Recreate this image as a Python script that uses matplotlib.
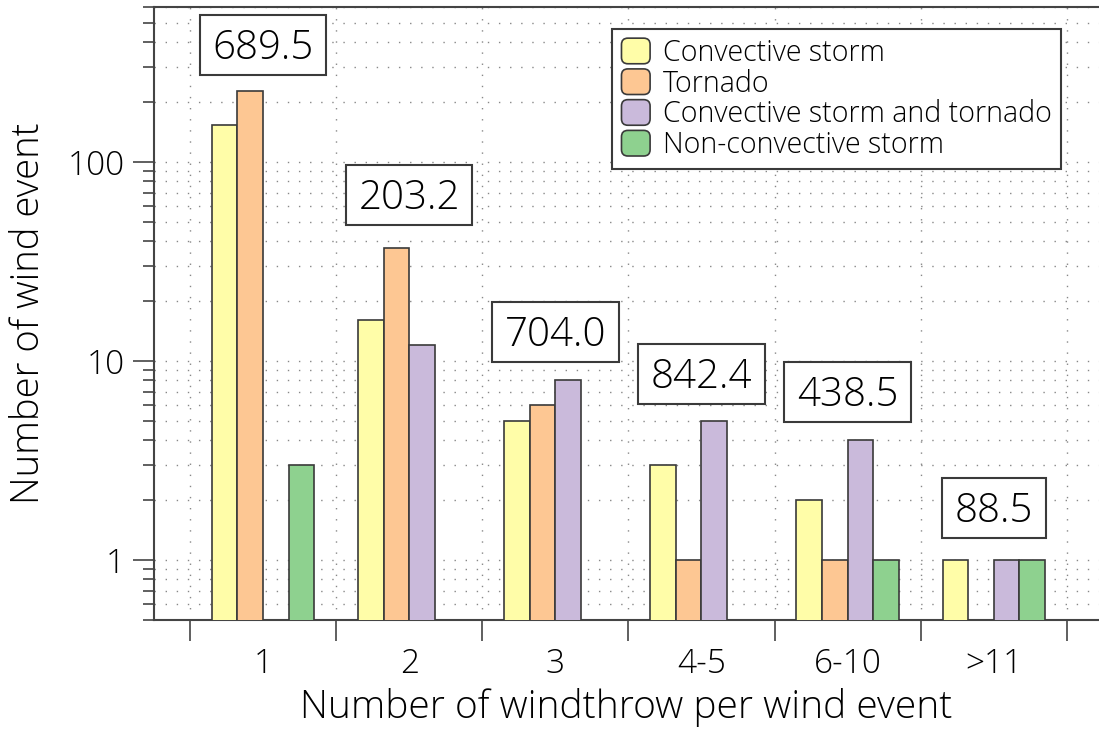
import numpy as np
import matplotlib
matplotlib.use("Agg")
import matplotlib.pyplot as plt
from matplotlib.patches import FancyBboxPatch, Patch, Rectangle
from matplotlib.legend_handler import HandlerPatch
from matplotlib.ticker import FixedLocator, NullFormatter, FixedFormatter, LogLocator
import matplotlib.transforms as mtransforms

plt.rcParams['font.family'] = ['Open Sans', 'DejaVu Sans']
plt.rcParams['font.weight'] = 'light'
plt.rcParams['axes.labelweight'] = 'light'

categories = ["1", "2", "3", "4-5", "6-10", ">11"]
series_names = ["Convective storm", "Tornado", "Convective storm and tornado", "Non-convective storm"]
convective = [153, 16, 5, 3, 2, 1]
tornado = [226, 37, 6, 1, 1, np.nan]
conv_tornado = [np.nan, 12, 8, 5, 4, 1]
non_convective = [3, np.nan, np.nan, np.nan, 1, 1]
box_labels = ["689.5", "203.2", "704.0", "842.4", "438.5", "88.5"]

colors = ["#FFFDA8", "#FDC793", "#CABADB", "#8ED18F"]
edge = "#3a3a3a"

fig = plt.figure(figsize=(10.99, 7.34), dpi=100)
ax = fig.add_axes([154/1099, 1-620/734, 1-154/1099, (620-7)/734])

x = np.arange(1, len(categories)+1)
w = 0.175
all_series = [convective, tornado, conv_tornado, non_convective]
handles = []
for i, (vals, c, name) in enumerate(zip(all_series, colors, series_names)):
    ax.bar(x + (i-1.5)*w, vals, width=w, color=c, edgecolor=edge,
           linewidth=1.2, zorder=3)
    handles.append(Patch(facecolor=c, edgecolor=edge, linewidth=1.2, label=name))

ax.set_yscale('log')
ax.set_ylim(0.5, 600)
ax.set_xlim(0.254, 6.72)

# y ticks
ax.yaxis.set_major_locator(FixedLocator([1, 10, 100]))
ax.yaxis.set_major_formatter(FixedFormatter(["1", "10", "100"]))
ax.yaxis.set_minor_locator(LogLocator(base=10, subs=np.arange(2, 10)))
ax.yaxis.set_minor_formatter(NullFormatter())
ax.tick_params(axis='y', which='major', length=15, width=1.2, color='#444444',
               labelsize=24, pad=6, direction='out')
ax.tick_params(axis='y', which='minor', length=8, width=1.2, color='#444444', direction='out')

# x ticks: boundaries as major ticks, labels at centers
ax.xaxis.set_major_locator(FixedLocator(np.arange(0.5, 7.0, 1.0)))
ax.xaxis.set_major_formatter(NullFormatter())
ax.xaxis.set_minor_locator(FixedLocator(x))
ax.xaxis.set_minor_formatter(FixedFormatter(categories))
ax.tick_params(axis='x', which='major', length=15, width=1.2, color='#444444', direction='out')
ax.tick_params(axis='x', which='minor', length=0, labelsize=24, pad=20)

for s in ['left', 'bottom', 'top']:
    ax.spines[s].set_color('#444444')
    ax.spines[s].set_linewidth(1.5)
ax.spines['right'].set_visible(False)

# grid
gkw = dict(color='#888888', linewidth=1.0, linestyle=(0, (1, 7)), zorder=0)
ax.grid(True, which='both', axis='y', **gkw)
ax.grid(True, which='major', axis='x', **gkw)
ax.set_axisbelow(True)

ax.set_xlabel("Number of windthrow per wind event", fontsize=28, labelpad=5)
ax.set_ylabel("Number of wind event", fontsize=27.5, labelpad=14)

# boxes with totals (box centres in axes fraction; fixed height, text-width based width)
trans = mtransforms.blended_transform_factory(ax.transData, ax.transAxes)
box_y = [(620-45)/613, (620-195)/613, (620-332)/613, (620-374)/613, (620-392)/613, (620-508)/613]
texts = []
for xi, lab, yy in zip(x, box_labels, box_y):
    t = ax.text(xi, yy, lab, ha='center', va='baseline', fontsize=29, zorder=6,
                transform=trans + mtransforms.ScaledTranslation(0, -14/100, fig.dpi_scale_trans))
    texts.append((t, xi, yy))

fig.canvas.draw()
renderer = fig.canvas.get_renderer()
for t, xi, yy in texts:
    bb = t.get_window_extent(renderer)
    cx, cy = trans.transform((xi, yy))
    bw = bb.width + 25
    bh = 60
    r = Rectangle((cx - bw/2, cy - bh/2), bw, bh, transform=mtransforms.IdentityTransform(),
                  facecolor='white', edgecolor=edge, linewidth=1.5, zorder=5)
    fig.add_artist(r)
    t.remove()
    fig.add_artist(t)
    t.set_zorder(6)

def make_rounded(legend, orig_handle, xdescent, ydescent, width, height, fontsize):
    return FancyBboxPatch((-xdescent, -ydescent), width, height,
                          boxstyle="round,pad=0,rounding_size=%f" % (0.25*height))

leg = ax.legend(handles=handles, loc='upper right',
                bbox_to_anchor=((1061-154)/945, (620-29)/613), borderaxespad=0,
                fontsize=20.6, frameon=True, fancybox=False, framealpha=1,
                edgecolor=edge, handlelength=1.0, handleheight=1.0,
                handletextpad=0.45, labelspacing=0.04, borderpad=0.32,
                handler_map={Patch: HandlerPatch(patch_func=make_rounded)})
leg.get_frame().set_linewidth(1.5)
leg.set_zorder(7)

fig.savefig("out.png", dpi=100)
